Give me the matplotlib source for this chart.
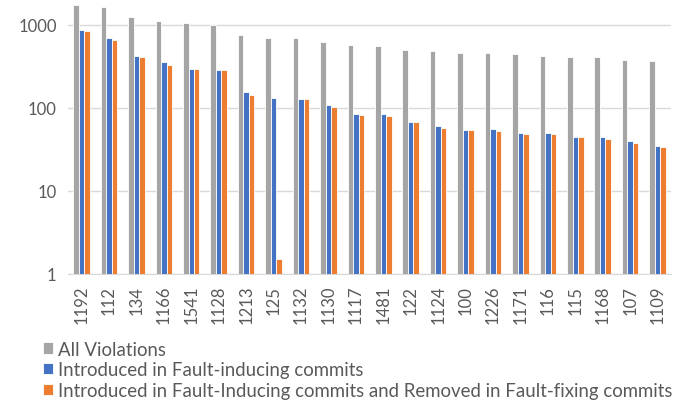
import numpy as np
import matplotlib.pyplot as plt

plt.rcParams['font.family'] = ['Lato', 'DejaVu Sans']

# rules (x axis)
rules = ["1192", "112", "134", "1166", "1541", "1128", "1213", "125", "1132", "1130",
         "1117", "1481", "122", "1124", "100", "1226", "1171", "116", "115", "1168",
         "107", "1109"]

all_violations = [1750, 1630, 1260, 1120, 1050, 1000, 745, 690, 690, 620,
                  575, 555, 495, 478, 460, 460, 445, 425, 410, 410, 378, 368]
fault_inducing = [870, 690, 425, 355, 293, 284, 155, 133, 128, 107,
                  85, 85, 68, 61, 54, 56, 50, 50, 45, 45, 40, 35]
induced_and_removed = [840, 665, 408, 330, 293, 284, 143, 1.5, 128, 103,
                       82, 79, 68, 58, 54, 52, 49, 49, 45, 42, 37.5, 34]

labels = ["All Violations",
          "Introduced in Fault-inducing commits",
          "Introduced in Fault-Inducing commits and Removed in Fault-fixing commits"]
colors = ["#A5A5A5", "#4472C4", "#ED7D31"]

fig = plt.figure(figsize=(6.85, 4.06), dpi=100)
ax = fig.add_axes([0.099, 0.323, 0.881, 0.677])

x = np.arange(len(rules))
w = 0.2
series = [all_violations, fault_inducing, induced_and_removed]
for i, (vals, lab, c) in enumerate(zip(series, labels, colors)):
    v = np.array(vals, dtype=float)
    ax.bar(x + (i - 1) * w, v - 1, bottom=1, width=w, color=c, label=lab,
           edgecolor="white", linewidth=0.6, zorder=3)

ax.set_yscale("log")
ax.set_ylim(1, 2050)
ax.set_xlim(-0.5, len(rules) - 0.5)
ax.set_yticks([1, 10, 100, 1000])
ax.set_yticklabels(["1", "10", "100", "1000"])
ax.minorticks_off()
ax.yaxis.grid(True, color="#D9D9D9", linewidth=1, zorder=0)
ax.set_xticks(x)
ax.set_xticklabels(rules, rotation=90)
ax.tick_params(axis="both", length=0, labelsize=12, labelcolor="#595959", pad=8)
for s in ["top", "right", "left"]:
    ax.spines[s].set_visible(False)
ax.spines["bottom"].set_color("#D9D9D9")

fig.legend(loc="upper left", bbox_to_anchor=(0.052, 0.177), frameon=False,
           fontsize=13.4, labelcolor="#595959", handlelength=0.55, handleheight=0.55,
           handletextpad=0.25, labelspacing=0.2, borderaxespad=0)

fig.savefig("out.png", dpi=100)
